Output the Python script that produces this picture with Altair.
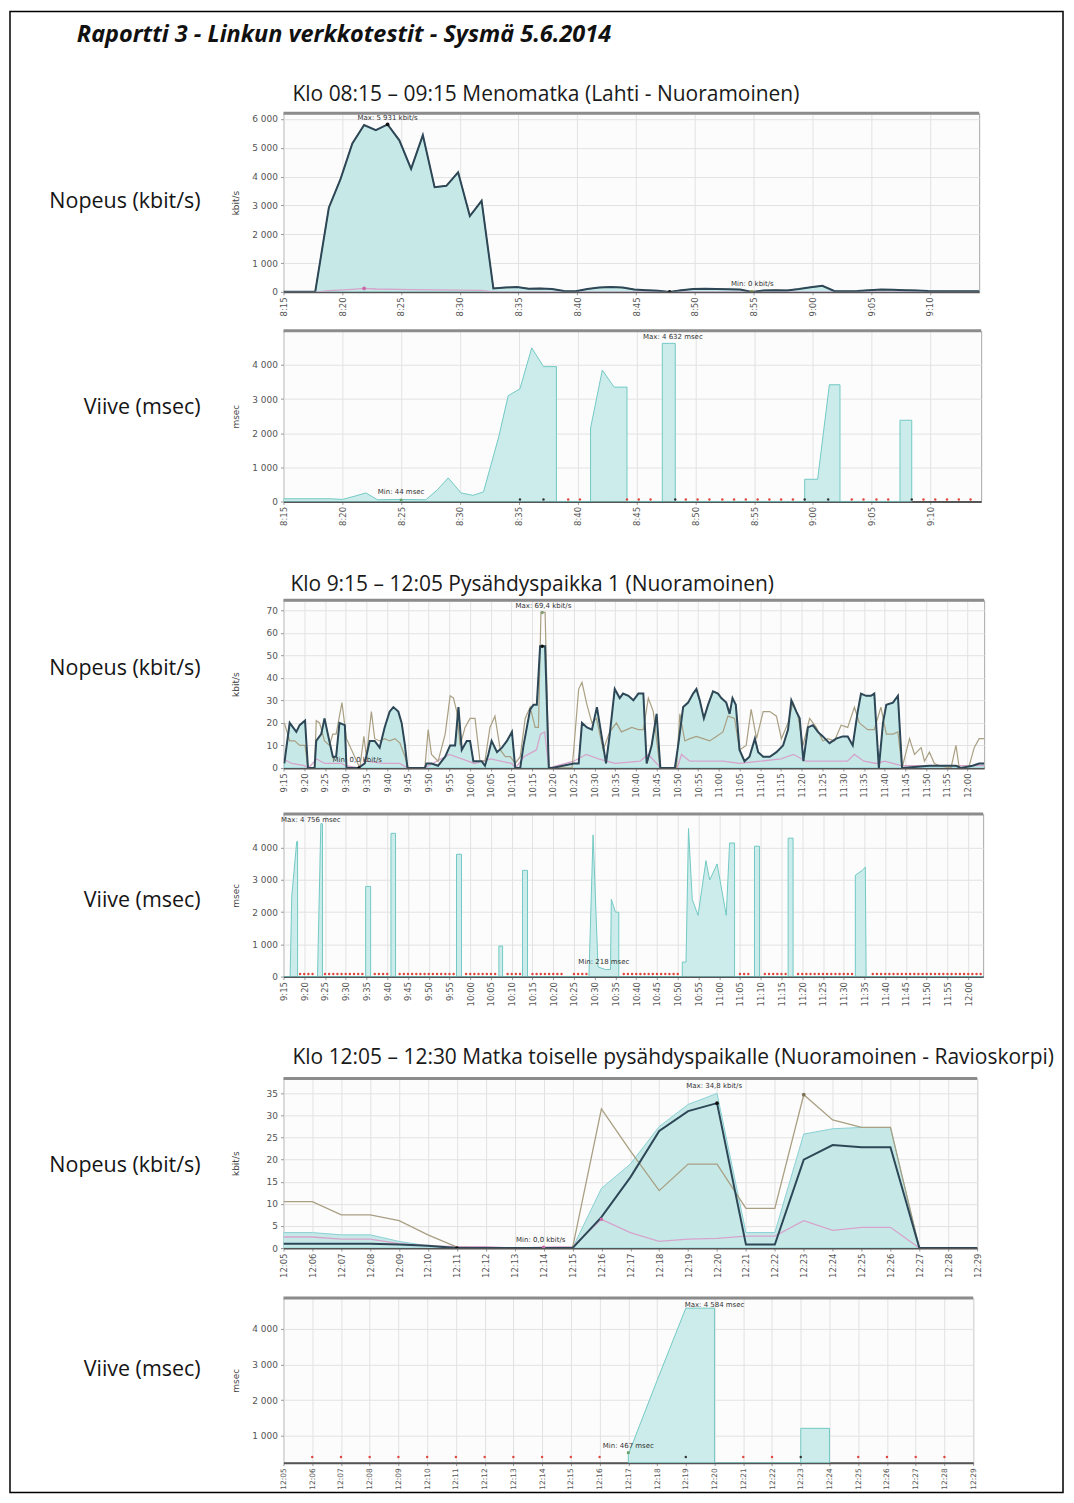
import altair as alt
import pandas as pd

FT = "Open Sans"
FA = "DejaVu Sans"

# ---------------- texts ----------------
main_title = "Raportti 3 - Linkun verkkotestit - Sysmä 5.6.2014"
section_titles = [
    "Klo 08:15 – 09:15  Menomatka (Lahti - Nuoramoinen)",
    "Klo 9:15 – 12:05  Pysähdyspaikka 1 (Nuoramoinen)",
    "Klo 12:05 – 12:30  Matka toiselle pysähdyspaikalle (Nuoramoinen - Ravioskorpi)",
]
speed_label = "Nopeus (kbit/s)"
delay_label = "Viive (msec)"
speed_unit = "kbit/s"
delay_unit = "msec"

# ---------------- tick labels ----------------
ticks_a = ["8:15", "8:20", "8:25", "8:30", "8:35", "8:40", "8:45", "8:50", "8:55", "9:00", "9:05", "9:10"]
ticks_b = ["9:15", "9:20", "9:25", "9:30", "9:35", "9:40", "9:45", "9:50", "9:55",
           "10:00", "10:05", "10:10", "10:15", "10:20", "10:25", "10:30", "10:35", "10:40", "10:45", "10:50", "10:55",
           "11:00", "11:05", "11:10", "11:15", "11:20", "11:25", "11:30", "11:35", "11:40", "11:45", "11:50", "11:55",
           "12:00"]
ticks_c = ["12:05", "12:06", "12:07", "12:08", "12:09", "12:10", "12:11", "12:12", "12:13", "12:14", "12:15",
           "12:16", "12:17", "12:18", "12:19", "12:20", "12:21", "12:22", "12:23", "12:24", "12:25", "12:26",
           "12:27", "12:28", "12:29"]

# ---------------- panel 1: speed 8:15-9:15 (minutes from 8:15) ----------------
p1_t = [0, 2.7, 3.86, 4.86, 5.86, 6.86, 7.86, 8.86, 9.86, 10.86, 11.86, 12.86, 13.86, 14.86, 15.86, 16.86,
        17.86, 18.86, 19.86, 20.86, 21.86, 22.86, 23.86, 24.86, 25.86, 26.86, 27.86, 28.86, 29.86, 30.86,
        31.86, 32.86, 33.86, 34.86, 35.86, 36.86, 37.86, 38.86, 39.86, 40.86, 41.86, 42.86, 43.86, 44.86,
        45.86, 46.86, 47.86, 48.86, 49.86, 50.86, 51.86, 52.86, 53.86, 54.86, 55.86, 56.86, 57.86, 59.2]
p1_speed = [0, 0, 2920, 3920, 5150, 5790, 5610, 5810, 5260, 4270, 5440, 3630, 3680, 4150, 2630, 3160,
            120, 150, 170, 110, 120, 100, 30, 20, 100, 150, 170, 150, 80, 60,
            40, 0, 60, 100, 110, 100, 90, 80, 0, 50, 60, 50, 100, 160,
            210, 30, 20, 30, 60, 80, 70, 60, 50, 30, 20, 20, 20, 20]
p1_pink_t = [0, 2.86, 3.86, 5.86, 6.86, 7.86, 10.86, 14.86, 16.86, 17.86, 59.2]
p1_pink = [0, 0, 40, 90, 120, 100, 80, 60, 50, 0, 0]

# ---------------- panel 2: delay 8:15-9:15 ----------------
p2_t = [0, 4, 5, 6, 7.0, 8, 9.9, 12.1, 13.1, 14.0, 15.1, 16.1, 17.0, 18.3, 19.1, 20.1, 21.1, 22.1, 23.2, 23.2,
        26.1, 26.1, 27.1, 28.1, 29.2, 29.2, 32.2, 32.2, 33.3, 33.3, 44.3, 44.3, 45.4, 46.4, 47.3, 47.3,
        52.4, 52.4, 53.4, 53.4]
p2_delay = [80, 80, 60, 150, 250, 50, 60, 50, 350, 690, 250, 180, 280, 1900, 3100, 3300, 4500, 3950, 3950, 0,
            0, 2150, 3850, 3350, 3350, 0, 0, 4632, 4632, 0, 0, 650, 650, 3420, 3420, 0,
            0, 2380, 2380, 0]
p2_nodata_red = [24.2, 25.2, 29.2, 30.2, 31.2, 34.2, 35.2, 36.2, 37.3, 38.3, 39.3, 40.3, 41.3, 42.3, 43.3,
                 48.3, 49.3, 50.4, 51.4, 54.4, 55.4, 56.4, 57.4, 58.4]
p2_nodata_black = [20.1, 22.1, 33.3, 44.3, 46.3, 53.4]

# ---------------- panel 3: speed 9:15-12:05 (minutes from 9:15) ----------------
p3_navy_t = [0.2, 1.5, 2.3, 3.1, 3.9, 5.2, 5.9, 7.5, 7.9, 9.1,
             9.9, 10.7, 11.9, 12.7, 13.5, 14.8, 15.2, 18.0, 19.6, 20.8,
             22.0, 23.2, 24.4, 25.6, 26.5, 27.7, 28.5, 29.3, 29.9, 34.1,
             34.5, 35.7, 37.3, 39.0, 40.2, 41.4, 42.2, 43.0, 44.2, 45.0,
             45.8, 47.8, 48.6, 49.4, 50.2, 51.5, 52.7, 53.9, 55.1, 55.9,
             57.1, 57.9, 58.7, 59.5, 60.3, 61.1, 61.9, 63.1, 64.0, 64.8,
             70.0, 71.2, 72.0, 73.2, 74.4, 75.6, 77.1, 77.8, 78.7, 79.9,
             81.1, 81.9, 83.2, 84.4, 85.6, 86.8, 87.6, 88.8, 90.0, 90.9,
             94.4, 95.2, 96.4, 97.6, 98.8, 99.6, 100.4, 101.4, 102.4, 103.6,
             104.8, 105.6, 106.8, 107.6, 108.3, 109.1, 110.0, 111.2, 112.4, 113.7,
             114.5, 115.7, 117.3, 118.9, 120.5, 121.7, 122.5, 123.7, 124.5, 125.4,
             126.5, 127.7, 128.9, 130.1, 131.7, 133.3, 134.9, 136.1, 137.3, 138.5,
             139.3, 140.5, 141.7, 142.5, 143.6, 144.6, 145.4, 147.0, 148.2, 149.2,
             155.8, 162.2, 163.4, 166.2, 167.8, 169.0]
p3_navy = [2, 20, 18, 16, 19, 21, 0, 0, 12, 15,
           22, 15, 5, 5, 20, 19, 0, 0, 2, 12,
           12, 9, 18, 25, 27, 25, 20, 10, 0, 0,
           2, 2, 1, 5, 10, 10, 27, 8, 12, 12,
           3, 3, 1, 6, 12, 7, 9, 12, 16, 0,
           0, 10, 18, 26, 28, 28, 54, 54, 0, 0,
           2, 2, 20, 18, 17, 27, 10, 2, 15, 35,
           31, 33, 32, 30, 33, 33, 2, 10, 24, 0,
           0, 10, 27, 29, 33, 35, 30, 22, 28, 34,
           33, 31, 29, 24, 31, 28, 8, 3, 5, 13,
           7, 5, 5, 7, 10, 17, 30, 25, 22, 3,
           18, 19, 16, 14, 11, 13, 14, 14, 10, 25,
           33, 32, 32, 33, 0, 20, 28, 29, 32, 0,
           1, 1, 0, 1, 2, 2]
p3_khaki_t = [0.2, 1.5, 2.7, 3.9, 5.2, 5.9, 7.5, 7.9, 8.7, 9.9,
              11.1, 11.9, 12.7, 14.1, 15.2, 18.4, 19.4, 20.0, 21.2, 22.0,
              23.2, 24.4, 25.6, 26.9, 28.1, 29.3, 30.1, 34.1, 34.9, 35.7,
              37.3, 39.0, 40.2, 41.0, 41.8, 42.6, 43.8, 45.0, 46.2, 47.4,
              48.6, 49.8, 51.0, 52.3, 53.5, 54.7, 55.9, 57.1, 58.3, 59.5,
              60.7, 61.5, 62.1, 63.1, 64.0, 69.6, 70.0, 71.2, 72.0, 73.2,
              74.4, 75.5, 77.1, 78.7, 80.3, 81.5, 82.8, 84.0, 85.6, 86.8,
              88.0, 89.2, 90.8, 94.8, 95.6, 96.8, 98.0, 99.6, 101.2, 102.8,
              104.4, 106.0, 107.2, 108.8, 110.0, 111.6, 112.8, 114.1, 115.7, 117.3,
              118.9, 120.1, 121.7, 122.9, 124.1, 125.3, 126.9, 128.5, 130.1, 131.3,
              132.9, 134.5, 136.1, 137.7, 138.9, 140.9, 142.5, 144.1, 145.4, 147.0,
              148.2, 149.2, 151.0, 152.2, 153.8, 154.6, 155.8, 157.0, 158.2, 161.0,
              162.2, 163.0, 165.4, 166.6, 167.8, 169.0]
p3_khaki = [20, 12, 12, 10, 10, 0, 0, 21, 20, 12,
            10, 15, 15, 29, 13, 0, 14, 5, 25, 13,
            12, 13, 12, 13, 11, 5, 0, 0, 17, 6,
            3, 15, 32, 31, 25, 10, 18, 22, 22, 3,
            3, 18, 23, 8, 5, 5, 2, 5, 22, 27,
            18, 18, 69, 69, 0, 0, 8, 35, 38, 28,
            20, 22, 8, 16, 20, 16, 17, 18, 17, 17,
            31, 25, 0, 0, 24, 12, 13, 14, 13, 12,
            14, 16, 23, 22, 8, 10, 26, 13, 25, 25,
            23, 13, 20, 29, 23, 10, 22, 18, 12, 13,
            12, 19, 18, 27, 20, 17, 17, 27, 15, 15,
            16, 0, 13, 6, 9, 3, 7, 2, 1, 0,
            10, 0, 1, 9, 13, 13]
p3_pink_t = [0, 2, 5, 6, 8, 10, 14, 15, 18, 20, 24, 28, 30, 34, 36, 40, 43, 46, 50, 55,
             56, 58, 61, 62, 63, 64, 70, 73, 76, 80, 86, 88, 91, 95, 96, 98, 106, 110, 115, 120,
             123, 126, 130, 136, 137.7, 140, 143, 145, 149, 169]
p3_pink = [4, 2, 1, 0, 4, 2, 2, 1, 0, 3, 2, 2, 0, 0, 2, 6, 4, 2, 4, 2,
           0, 5, 8, 15, 16, 0, 3, 6, 4, 2, 3, 6, 0, 0, 6, 3, 3, 2, 3, 4,
           6, 3, 3, 3, 6, 3, 2, 3, 1, 1]

# ---------------- panel 4: delay 9:15-12:05 ----------------
p4_t = [0, 1.6, 2.0, 3.2, 3.4, 3.4, 8.2, 9.0, 9.4, 9.4,
        19.8, 19.8, 21.0, 21.0, 25.9, 25.9, 27.0, 27.0, 41.7, 41.7,
        42.9, 42.9, 51.9, 51.9, 52.8, 52.8, 57.6, 57.6, 58.8, 58.8,
        73.6, 74.6, 75.8, 77.6, 78.8, 79.0, 80.0, 80.8, 80.8, 96.1,
        96.1, 97.0, 97.6, 98.5, 99.9, 101.8, 102.7, 104.5, 106.7, 107.5,
        108.7, 108.7, 113.5, 113.5, 114.7, 114.7, 121.6, 121.6, 122.8, 122.8,
        137.8, 137.8, 139.5, 140.2, 140.4, 168.6]
p4_delay = [0, 0, 2500, 4200, 4200, 0, 0, 4750, 4750, 0,
            0, 2800, 2800, 0, 0, 4450, 4450, 0, 0, 3800,
            3800, 0, 0, 950, 950, 0, 0, 3300, 3300, 0,
            0, 4400, 300, 218, 220, 2400, 2000, 2000, 0, 0,
            450, 450, 4600, 2400, 1900, 3600, 3000, 3500, 1900, 4150,
            4150, 0, 0, 4050, 4050, 0, 0, 4300, 4300, 0,
            0, 3150, 3300, 3400, 0, 0]
p4_nodata = ([4, 5, 6, 7] + list(range(10, 20)) + [22, 23, 24, 25] + list(range(28, 42)) +
             list(range(44, 52)) + [54, 55, 56, 57] + list(range(60, 68)) + [70, 71, 72, 73] +
             list(range(82, 96)) + [110, 111, 112] + list(range(116, 122)) + list(range(124, 138)) +
             list(range(142, 169)))

# ---------------- panel 5: speed 12:05-12:29 (minutes from 12:05) ----------------
p5_t = list(range(25))
p5_khaki = [10.5, 10.5, 7.5, 7.5, 6.2, 3, 0.2, 0, 0, 0, 0, 31.5, 22, 13, 19, 19, 9, 9, 34.7, 29, 27.3, 27.3, 0, 0, 0]
p5_navy = [1, 1, 1, 1, 0.8, 0.5, 0, 0, 0, 0, 0, 7, 16, 26.5, 31, 32.8, 0.8, 0.8, 20, 23.3, 22.8, 22.8, 0, 0, 0]
p5_area = [3.5, 3.5, 3, 3, 1.5, 0.5, 0, 0, 0, 0, 0, 13.5, 19, 27.5, 32.5, 35, 3.5, 3.5, 25.8, 27, 27.3, 27.3, 0, 0, 0]
p5_pink = [2.5, 2.5, 2, 2, 1, 0.5, 0.3, 0.3, 0, 0.2, 0.3, 6.5, 3.5, 1.5, 2, 2.2, 2.7, 2.7, 6.2, 4, 4.7, 4.7, 0, 0, 0]

# ---------------- panel 6: delay 12:05-12:29 ----------------
p6_t = [12.0, 12.0, 13.0, 14.0, 15.0, 15.0, 18.0, 18.0, 19.0, 19.0]
p6_delay = [0, 470, 2550, 4584, 4584, 0, 0, 1206, 1206, 0]
p6_nodata_red = [1, 2, 3, 4, 5, 6, 7, 8, 9, 10, 11, 16, 17, 20, 21, 22, 23]
p6_nodata_black = [14, 18]

# ---------------- annotations ----------------
ann1 = [("Max: 5 931 kbit/s", 8.86, 6040), ("Min: 0 kbit/s", 39.9, 290)]
ann2 = [("Max: 4 632 msec", 33.1, 4810), ("Min: 44 msec", 10.0, 280)]
ann3 = [("Max: 69,4 kbit/s", 62.7, 71.8), ("Min: 0,0 kbit/s", 17.8, 3.6)]
ann4 = [("Max: 4 756 msec", 6.6, 4850), ("Min: 218 msec", 77.2, 450)]
ann5 = [("Max: 34,8 kbit/s", 14.9, 36.6), ("Min: 0,0 kbit/s", 8.9, 1.8)]
ann6 = [("Max: 4 584 msec", 15.0, 4675), ("Min: 467 msec", 12.0, 720)]

# ---------------- colours ----------------
C_AREA = "#c6e9e8"
C_AREA_EDGE = "#8ad0d4"
C_DAREA = "#cbecea"
C_DEDGE = "#72c9c4"
C_NAVY = "#2d4757"
C_KHAKI = "#a99f82"
C_PINK = "#d6a3cb"
C_RED = "#e0463e"

one = pd.DataFrame({"a": [0]})


def df(t, v):
    return pd.DataFrame({"t": t, "v": v})


def ann_df(rows):
    return pd.DataFrame({"label": [r[0] for r in rows], "t": [r[1] for r in rows], "v": [r[2] for r in rows]})


def make_panel(w, h, xdom, ydom, yvals, thousands, xlabels, xstep, unit, label, label_y, layers, extra=(),
               xfont=8.5):
    xs = alt.Scale(domain=xdom, nice=False, zero=False)
    ys = alt.Scale(domain=ydom, nice=False, zero=False)
    arr = "[" + ",".join("'%s'" % s for s in xlabels) + "]"
    xax = alt.Axis(values=[i * xstep for i in range(len(xlabels))],
                   labelExpr="%s[round(datum.value/%s)]" % (arr, xstep),
                   labelAngle=270, labelFont=FA, labelFontSize=xfont, labelColor="#555",
                   labelPadding=2, tickSize=3, tickColor="#999", domainColor="#555", domainWidth=2,
                   grid=True, gridColor="#e2e2e2", title=None, labelFlush=False, labelOverlap=False)
    yexpr = "replace(format(datum.value, ','), ',', ' ')" if thousands else "format(datum.value, 'd')"
    yax = alt.Axis(values=yvals, labelExpr=yexpr, labelFont=FA, labelFontSize=9, labelColor="#555",
                   tickSize=3, tickColor="#999", domain=False, grid=True, gridColor="#e2e2e2",
                   title=unit, titleFont=FA, titleFontSize=9, titleFontWeight="normal",
                   titleColor="#444", titleAngle=270, titleX=-48, titleY=h / 2, titleAlign="center",
                   titleBaseline="middle", labelPadding=3, labelFlush=False)
    X = alt.X("t:Q", scale=xs, axis=xax)
    Y = alt.Y("v:Q", scale=ys, axis=yax, stack=False)
    charts = []
    for data, kind, kw in layers:
        c = alt.Chart(data)
        if kind == "area":
            c = c.mark_area(clip=True, **kw).encode(x=X, y=Y)
        elif kind == "line":
            c = c.mark_line(clip=True, **kw).encode(x=X, y=Y)
        elif kind == "pt":
            c = c.mark_circle(clip=True, **kw).encode(x=X, y=Y)
        elif kind == "text":
            c = c.mark_text(font=FA, fontSize=7, color="#333", baseline="middle", **kw).encode(x=X, y=Y, text="label:N")
        charts.append(c)
    charts.append(alt.Chart(one).mark_rule(color="#8c8c8c", strokeWidth=3).encode(
        x=alt.value(0), x2=alt.value(w), y=alt.value(0)))
    charts.append(alt.Chart(one).mark_text(text=label, font=FT, fontSize=21.5, align="right",
                                           baseline="middle", color="#151515").encode(
        x=alt.value(-83), y=alt.value(label_y)))
    charts.extend(extra)
    return alt.layer(*charts).properties(width=w, height=h)


def section_title(text, x, y):
    return alt.Chart(one).mark_text(text=text, font=FT, fontSize=21, align="left", baseline="alphabetic",
                                    color="#1a1a1a").encode(x=alt.value(x), y=alt.value(y))


frame = alt.Chart(one).mark_rect(filled=False, stroke="#000000", strokeWidth=1.5).encode(
    x=alt.value(-274), x2=alt.value(781), y=alt.value(-102), y2=alt.value(1382))
title_mark = alt.Chart(one).mark_text(text=main_title, font=FT, fontSize=23.5, fontWeight="bold",
                                      fontStyle="italic", align="left", baseline="alphabetic",
                                      color="#111").encode(x=alt.value(-207), y=alt.value(-71))

p1 = make_panel(697, 179, [0, 59.2], [0, 6200], [0, 1000, 2000, 3000, 4000, 5000, 6000], True,
                ticks_a, 5, speed_unit, speed_label, 89, [
                    (df(p1_t, p1_speed), "area", dict(color=C_AREA, stroke=C_AREA_EDGE, strokeWidth=1)),
                    (df(p1_t, p1_speed), "line", dict(color=C_KHAKI, strokeWidth=1.2)),
                    (df(p1_pink_t, p1_pink), "line", dict(color=C_PINK, strokeWidth=1.3)),
                    (df(p1_t, p1_speed), "line", dict(color=C_NAVY, strokeWidth=2)),
                    (df([8.86, 32.86], [5810, 0]), "pt", dict(color="#111", size=14, opacity=1)),
                    (df([6.86], [120]), "pt", dict(color="#c86aa8", size=14, opacity=1)),
                    (df([39.86], [0]), "pt", dict(color="#7a8a3a", size=14, opacity=1)),
                    (ann_df(ann1), "text", dict()),
                ], extra=[frame, title_mark, section_title(section_titles[0], 9, -12)])

p2 = make_panel(699, 171, [0, 59.3], [0, 5000], [0, 1000, 2000, 3000, 4000], True,
                ticks_a, 5, delay_unit, delay_label, 77, [
                    (df(p2_t, p2_delay), "area", dict(color=C_DAREA, stroke=C_DEDGE, strokeWidth=1)),
                    (df(p2_nodata_red, [60] * len(p2_nodata_red)), "pt", dict(color=C_RED, size=6, opacity=1)),
                    (df(p2_nodata_black, [60] * len(p2_nodata_black)), "pt", dict(color="#333", size=6, opacity=1)),
                    (df([10.0], [44]), "pt", dict(color="#6aa36a", size=10, opacity=1)),
                    (ann_df(ann2), "text", dict()),
                ])

p3 = make_panel(702, 168, [0, 169], [0, 74.4], [0, 10, 20, 30, 40, 50, 60, 70], False,
                ticks_b, 5, speed_unit, speed_label, 69, [
                    (df(p3_navy_t, p3_navy), "area", dict(color=C_AREA, stroke=C_AREA_EDGE, strokeWidth=1)),
                    (df(p3_pink_t, p3_pink), "line", dict(color=C_PINK, strokeWidth=1.3)),
                    (df(p3_khaki_t, p3_khaki), "line", dict(color=C_KHAKI, strokeWidth=1.2)),
                    (df(p3_navy_t, p3_navy), "line", dict(color=C_NAVY, strokeWidth=2)),
                    (df([62.4, 18.2], [54, 0]), "pt", dict(color="#111", size=12, opacity=1)),
                    (df([62.4], [69]), "pt", dict(color="#8aa07a", size=12, opacity=1)),
                    (ann_df(ann3), "text", dict()),
                ], extra=[section_title(section_titles[1], 7, -9)])

p4 = make_panel(701, 163, [0, 168.6], [0, 5054], [0, 1000, 2000, 3000, 4000], True,
                ticks_b, 5, delay_unit, delay_label, 87, [
                    (df(p4_t, p4_delay), "area", dict(color=C_DAREA, stroke=C_DEDGE, strokeWidth=1)),
                    (df(p4_nodata, [80] * len(p4_nodata)), "pt", dict(color=C_RED, size=6, opacity=1)),
                    (ann_df(ann4), "text", dict()),
                ])

p5 = make_panel(695, 170, [0, 24], [0, 38.4], [0, 5, 10, 15, 20, 25, 30, 35], False,
                ticks_c, 1, speed_unit, speed_label, 88, [
                    (df(p5_t, p5_area), "area", dict(color=C_AREA, stroke=C_AREA_EDGE, strokeWidth=1)),
                    (df(p5_t, p5_pink), "line", dict(color=C_PINK, strokeWidth=1.3)),
                    (df(p5_t, p5_khaki), "line", dict(color=C_KHAKI, strokeWidth=1.3)),
                    (df(p5_t, p5_navy), "line", dict(color=C_NAVY, strokeWidth=2)),
                    (df([15, 6], [32.8, 0]), "pt", dict(color="#111", size=14, opacity=1)),
                    (df([18], [34.7]), "pt", dict(color="#7d7355", size=14, opacity=1)),
                    (df([11, 9], [6.5, 0.2]), "pt", dict(color="#c86aa8", size=12, opacity=1)),
                    (ann_df(ann5), "text", dict()),
                ], extra=[section_title(section_titles[2], 9, -14)])

p6 = make_panel(691, 165, [0, 24], [241, 4870], [1000, 2000, 3000, 4000], True,
                ticks_c, 1, delay_unit, delay_label, 72, [
                    (df(p6_t, p6_delay), "area", dict(color=C_DAREA, stroke=C_DEDGE, strokeWidth=1)),
                    (df(p6_nodata_red, [400] * len(p6_nodata_red)), "pt", dict(color=C_RED, size=6, opacity=1)),
                    (df(p6_nodata_black, [400] * len(p6_nodata_black)), "pt", dict(color="#333", size=6, opacity=1)),
                    (df([12.0], [522]), "pt", dict(color="#6aa36a", size=10, opacity=1)),
                    (ann_df(ann6), "text", dict()),
                ], xfont=7.5)


def spacer(h):
    return alt.Chart(one).mark_point(opacity=0).encode(x=alt.value(0), y=alt.value(0)).properties(
        width=1, height=h, view=alt.ViewBackground(stroke="transparent", fill="transparent"))


chart = alt.vconcat(p1, spacer(39), p2, spacer(99), p3, spacer(46), p4, spacer(102), p5, spacer(50), p6,
                    spacing=0, bounds="flush").properties(
    padding={"left": 0, "top": 0, "right": 1, "bottom": 1}
).configure(background="white").configure_view(stroke="#a8a8a8", strokeWidth=1, fill="#fcfcfc")

chart.save("out.html", embed_options={"renderer": "svg", "actions": False})
